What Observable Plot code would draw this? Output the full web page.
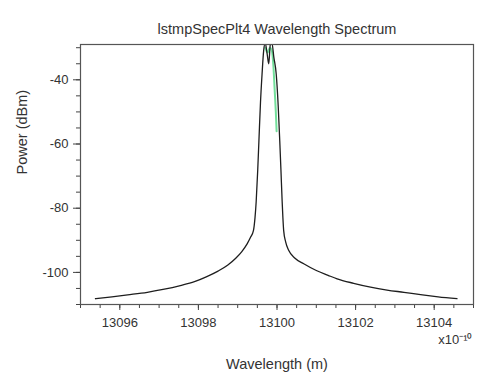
<!DOCTYPE html>
<html>
<head>
<meta charset="utf-8">
<script src="https://cdn.jsdelivr.net/npm/d3@7"></script>
<script src="https://cdn.jsdelivr.net/npm/@observablehq/plot@0.6"></script>
<style>
  html, body { margin: 0; padding: 0; background: #fff; }
  svg { font-family: "Liberation Sans", Arial, sans-serif; }
</style>
</head>
<body>
<div id="chart"></div>
<script>
const title = "lstmpSpecPlt4 Wavelength Spectrum";
const xLabel = "Wavelength (m)";
const yLabel = "Power (dBm)";
const xScaleNote = "x10\u207B\u00B9\u2070";

const xTicks = [13096, 13098, 13100, 13102, 13104];
const yTicks = [-100, -80, -60, -40];

// main (black) trace
const wavelength = [13095.38, 13095.8, 13096.2, 13096.7, 13097.1, 13097.54, 13097.9, 13098.2, 13098.5, 13098.75,
  13098.95, 13099.1, 13099.24, 13099.33, 13099.40, 13099.44, 13099.47, 13099.51, 13099.54, 13099.58,
  13099.62, 13099.66, 13099.70, 13099.75, 13099.79, 13099.83, 13099.87, 13099.92, 13099.98, 13100.03,
  13100.07, 13100.10, 13100.13, 13100.15, 13100.17, 13100.22, 13100.30, 13100.45, 13100.68, 13101.0,
  13101.3, 13101.53, 13101.95, 13102.38, 13102.8, 13103.23, 13103.7, 13104.1, 13104.58];
const power = [-108.2, -107.6, -107.0, -106.2, -105.3, -104.1, -102.9, -101.4, -99.6, -97.7,
  -95.6, -93.6, -91.1, -89.0, -87.0, -83.0, -78.0, -68.0, -59.0, -47.0,
  -38.2, -31.0, -28.5, -32.0, -35.0, -29.0, -28.5, -33.0, -38.2, -48.0,
  -59.0, -68.0, -77.6, -83.0, -87.0, -90.5, -93.2, -95.5, -97.3, -99.4,
  -100.9, -102.0, -103.4, -104.6, -105.5, -106.2, -107.0, -107.6, -108.2];

// secondary (green) trace near the peak
const wavelength2 = [13099.70, 13099.76, 13099.82, 13099.87, 13099.91, 13099.94, 13099.97, 13099.99];
const power2 = [-30.0, -31.5, -30.0, -31.0, -36.0, -43.0, -50.0, -56.0];

const main = wavelength.map((w, i) => ({w, p: power[i]}));
const green = wavelength2.map((w, i) => ({w, p: power2[i]}));

const minorX = d3.range(13095, 13105.001, 0.5);
const minorY = d3.range(-110, -29, 5);

const chart = Plot.plot({
  width: 483,
  height: 380,
  marginTop: 44,
  marginLeft: 80,
  marginRight: 10,
  marginBottom: 76,
  style: {fontFamily: "'Liberation Sans', Arial, sans-serif", color: "#333", background: "#fff"},
  x: {domain: [13095, 13105], label: null},
  y: {domain: [-110, -29], label: null},
  marks: [
    Plot.line(green, {x: "w", y: "p", stroke: "#5ad98a", strokeWidth: 2, strokeOpacity: 0.85, curve: "monotone-x", clip: true}),
    Plot.line(main, {x: "w", y: "p", stroke: "#1e1e1e", strokeWidth: 1.3, curve: "monotone-x", clip: true}),
    Plot.axisX({ticks: minorX, tickSize: 4, text: null, stroke: "#444", label: null}),
    Plot.axisX({ticks: xTicks, tickSize: 6, tickPadding: 7, tickFormat: d => String(d), fontSize: 13, stroke: "#444", fill: "#333", label: null}),
    Plot.axisY({ticks: minorY, tickSize: 4, text: null, stroke: "#444", label: null}),
    Plot.axisY({ticks: yTicks, tickSize: 7, tickPadding: 5, tickFormat: d => String(d), fontSize: 13, stroke: "#444", fill: "#333", label: null}),
    Plot.frame({stroke: "#555", strokeWidth: 1.2}),
    Plot.text([title], {frameAnchor: "top", dy: -21, fontSize: 14.5, fill: "#333"}),
    Plot.text([xLabel], {frameAnchor: "bottom", dy: 64, fontSize: 14.5, fill: "#333"}),
    Plot.text([yLabel], {frameAnchor: "left", dx: -58, rotate: -90, fontSize: 14.5, fill: "#333"}),
    Plot.text([xScaleNote], {frameAnchor: "bottom-right", dx: -1, dy: 39, fontSize: 13, fill: "#333"})
  ]
});
document.getElementById("chart").appendChild(chart);
</script>
</body>
</html>
